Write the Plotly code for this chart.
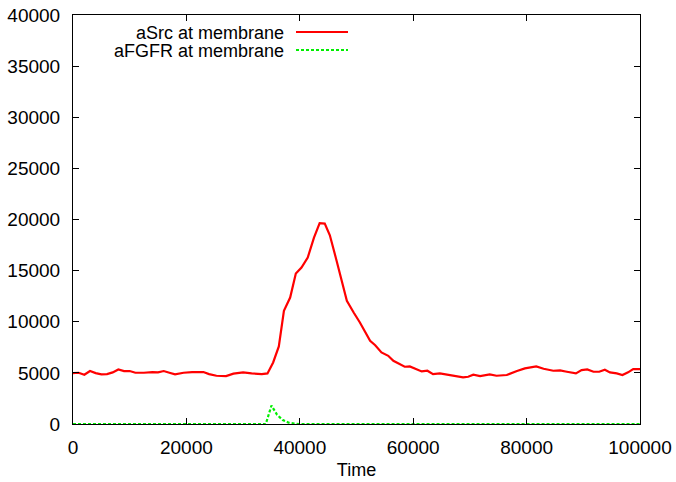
import plotly.graph_objects as go

# aSrc at membrane (red)
src_time = [0, 1000, 2000, 3000, 4000, 5000, 6000, 7000, 8000, 9000, 10000, 11000,
            12500, 14000, 15000, 16000, 17000, 18000, 19500, 21000, 23000, 24000,
            25300, 27000, 28300, 30000, 31500, 33300, 34300, 35300, 36300, 37200,
            38300, 39300, 40300, 41400, 42500, 43500, 44400, 45300, 46500, 47300,
            48300, 49500, 50600, 52400, 53300, 54400, 55600, 56500, 57700, 58500,
            59400, 60600, 61500, 62500, 63500, 64700, 66500, 68800, 69700, 70600,
            71800, 73500, 74700, 76500, 78300, 79700, 81700, 83000, 84700, 85900,
            87100, 88700, 89700, 90700, 91800, 92800, 93800, 94700, 95900, 96900,
            97900, 98800, 100000]
src_vals = [4980, 5010, 4820, 5180, 4980, 4850, 4880, 5050, 5340, 5180, 5180, 5010,
            5010, 5080, 5050, 5180, 5010, 4850, 5010, 5080, 5080, 4880,
            4720, 4690, 4920, 5050, 4950, 4880, 4950, 6020, 7580, 11070,
            12370, 14710, 15300, 16280, 18230, 19650, 19600, 18460, 15950, 14300,
            12040, 10900, 9930, 8140, 7710, 7000, 6670, 6180, 5860, 5600,
            5630, 5370, 5140, 5210, 4880, 4950, 4790, 4560, 4620, 4820,
            4690, 4850, 4720, 4790, 5180, 5440, 5630, 5400, 5210, 5240,
            5110, 4950, 5270, 5340, 5110, 5110, 5310, 5050, 4950, 4790,
            5050, 5370, 5370]

# aFGFR at membrane (green)
fgfr_time = [0, 10000, 20000, 30000, 34000, 35000, 36000, 37000, 38000, 39000,
             40000, 50000, 60000, 70000, 80000, 90000, 100000]
fgfr_vals = [0, 0, 0, 0, 0, 1800, 900, 380, 140, 40,
             0, 0, 0, 0, 0, 0, 0]

x_ticks = [0, 20000, 40000, 60000, 80000, 100000]
y_ticks = [0, 5000, 10000, 15000, 20000, 25000, 30000, 35000, 40000]

font = "Liberation Sans, Arial, Helvetica, sans-serif"
FS = 19

fig = go.Figure()
fig.add_trace(go.Scatter(x=src_time, y=src_vals, mode="lines",
                         line=dict(color="#ff0000", width=2.2),
                         name="aSrc at membrane", showlegend=False))
fig.add_trace(go.Scatter(x=fgfr_time, y=fgfr_vals, mode="lines",
                         line=dict(color="#00ee00", width=2.2, dash="3px,2px"),
                         name="aFGFR at membrane", showlegend=False))

# legend drawn gnuplot-style (text right-aligned, sample to the right)
legend_items = [("aSrc at membrane", "#ff0000", "solid", 32),
                ("aFGFR at membrane", "#00ee00", "3px,2px", 50)]
for label, color, dash, ypx in legend_items:
    yp = 1 - (ypx - 15) / 409.0
    fig.add_annotation(xref="paper", yref="paper", x=(285 - 73) / 567.0, y=yp,
                       text=label, showarrow=False, xanchor="right", yanchor="middle",
                       borderpad=0, height=17, valign="middle",
                       font=dict(family=font, size=18, color="black"))
    fig.add_shape(type="line", xref="paper", yref="paper",
                  x0=(296 - 73) / 567.0, x1=(348 - 73) / 567.0, y0=yp, y1=yp,
                  line=dict(color=color, width=2.2, dash=dash))

fig.update_layout(
    width=676, height=482,
    margin=dict(l=73, r=36, t=15, b=58, autoexpand=False),
    paper_bgcolor="white", plot_bgcolor="white",
    font=dict(family=font, size=FS, color="black"),
    showlegend=False,
)
fig.update_xaxes(range=[0, 100000], tickvals=x_ticks, ticktext=[str(v) for v in x_ticks],
                 ticks="inside", ticklen=6, tickcolor="black", mirror="allticks",
                 showline=True, linecolor="black", linewidth=1, showgrid=False,
                 zeroline=False, automargin=False, ticklabelstandoff=6,
                 title=dict(text="Time", standoff=6, font=dict(family=font, size=18)))
fig.update_yaxes(range=[0, 40000], tickvals=y_ticks, ticktext=[str(v) for v in y_ticks],
                 ticks="inside", ticklen=6, tickcolor="black", mirror="allticks",
                 showline=True, linecolor="black", linewidth=1, showgrid=False,
                 zeroline=False, automargin=False, ticklabelstandoff=8)

fig.write_html("out.html", config={"displayModeBar": False},
               post_script="document.body.style.margin='0';document.body.style.overflow='hidden';")
